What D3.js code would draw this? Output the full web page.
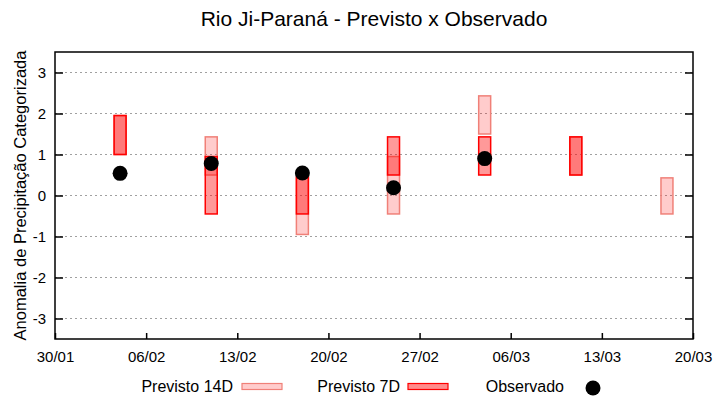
<!DOCTYPE html>
<html>
<head>
<meta charset="utf-8">
<script src="https://cdn.jsdelivr.net/npm/d3@7"></script>
<style>
  body { margin: 0; background: #fff; }
  text { font-family: "Liberation Sans", Arial, sans-serif; fill: #000; }
</style>
</head>
<body>
<script>
// forecast dates (dd/mm)
var dates = ["04/02", "11/02", "18/02", "25/02", "04/03", "11/03", "18/03"];
// 14 day forecast ranges (low, high)
var prev14Low  = [1.0, 0.5, -0.95, -0.45, 1.5, 0.5, -0.45];
var prev14High = [1.95, 1.43, 0.45, 0.95, 2.43, 1.43, 0.43];
// 7 day forecast ranges (null = none)
var prev7Low  = [1.0, -0.45, -0.45, 0.5, 0.5, 0.5, null];
var prev7High = [1.95, 0.95, 0.45, 1.43, 1.43, 1.43, null];
// observed anomaly
var observado = [0.54, 0.78, 0.55, 0.19, 0.9, null, null];

var xTicks = ["30/01", "06/02", "13/02", "20/02", "27/02", "06/03", "13/03", "20/03"];
var yTicks = [-3, -2, -1, 0, 1, 2, 3];

var width = 720, height = 400;
var margin = {top: 52, right: 27, bottom: 61, left: 55};

function parseDate(s) {
    var p = s.split("/");
    var m = +p[1];
    return new Date(Date.UTC(2023, m - 1, +p[0]));
}

var svg = d3.select("body").append("svg")
    .attr("width", width)
    .attr("height", height);

var x = d3.scaleUtc()
    .domain([parseDate("30/01"), parseDate("20/03")])
    .range([margin.left, width - margin.right]);

var y = d3.scaleLinear()
    .domain([-3.5, 3.5])
    .range([height - margin.bottom, margin.top]);

var day = 24 * 3600 * 1000;
var halfW = 0.46 * day;

//grid lines
svg.selectAll(".grid")
    .data(yTicks)
    .enter()
    .append("line")
    .attr("x1", margin.left)
    .attr("x2", width - margin.right)
    .attr("y1", function(d){ return y(d); })
    .attr("y2", function(d){ return y(d); })
    .attr("stroke", "#a0a0a0")
    .attr("stroke-width", 1)
    .attr("stroke-dasharray", "2,3");

var rows = dates.map(function(d, i){
    return {date: parseDate(d), l14: prev14Low[i], h14: prev14High[i],
            l7: prev7Low[i], h7: prev7High[i], obs: observado[i]};
});

//14D bars
svg.selectAll(".b14")
    .data(rows)
    .enter()
    .append("rect")
    .attr("x", function(d){ return x(new Date(+d.date - halfW)); })
    .attr("width", function(d){ return x(new Date(+d.date + halfW)) - x(new Date(+d.date - halfW)); })
    .attr("y", function(d){ return y(d.h14); })
    .attr("height", function(d){ return y(d.l14) - y(d.h14); })
    .attr("fill", "rgba(255,0,0,0.2)")
    .attr("stroke", "#f08078")
    .attr("stroke-width", 1.5);

//7D bars
svg.selectAll(".b7")
    .data(rows.filter(function(d){ return d.l7 != null; }))
    .enter()
    .append("rect")
    .attr("x", function(d){ return x(new Date(+d.date - halfW)); })
    .attr("width", function(d){ return x(new Date(+d.date + halfW)) - x(new Date(+d.date - halfW)); })
    .attr("y", function(d){ return y(d.h7); })
    .attr("height", function(d){ return y(d.l7) - y(d.h7); })
    .attr("fill", "rgba(255,0,0,0.4)")
    .attr("stroke", "#ff0000")
    .attr("stroke-width", 1.5);

//observed points
svg.selectAll(".obs")
    .data(rows.filter(function(d){ return d.obs != null; }))
    .enter()
    .append("circle")
    .attr("cx", function(d){ return x(d.date); })
    .attr("cy", function(d){ return y(d.obs); })
    .attr("r", 7.5)
    .attr("fill", "#000");

//axes (gnuplot style, ticks inward)
var xAxis = d3.axisBottom(x)
    .tickValues(xTicks.map(parseDate))
    .tickFormat(function(d, i){ return xTicks[i]; })
    .tickSize(-6)
    .tickPadding(12);
var gx = svg.append("g")
    .attr("transform", "translate(0," + (height - margin.bottom) + ")")
    .call(xAxis);

var yAxis = d3.axisLeft(y)
    .tickValues(yTicks)
    .tickFormat(function(d){ return String(d); })
    .tickSize(-8)
    .tickPadding(9);
var gy = svg.append("g")
    .attr("transform", "translate(" + margin.left + ",0)")
    .call(yAxis);

var gyr = svg.append("g")
    .attr("transform", "translate(" + (width - margin.right) + ",0)")
    .call(d3.axisRight(y).tickValues(yTicks).tickSize(-8).tickFormat(""));

[gx, gy, gyr].forEach(function(g){
    g.select(".domain").remove();
    g.selectAll(".tick line").attr("stroke", "#000").attr("stroke-width", 1.5);
    g.selectAll("text").attr("font-size", 15).attr("fill", "#000")
        .attr("font-family", "Liberation Sans, Arial, sans-serif");
});
gx.selectAll(".tick text").attr("font-family", "Liberation Sans Narrow, Liberation Sans, sans-serif").attr("font-size", 15);

//border
svg.append("rect")
    .attr("x", margin.left)
    .attr("y", margin.top)
    .attr("width", width - margin.left - margin.right)
    .attr("height", height - margin.top - margin.bottom)
    .attr("fill", "none")
    .attr("stroke", "#000")
    .attr("stroke-width", 1.5);

//title
svg.append("text")
    .attr("x", (margin.left + width - margin.right) / 2)
    .attr("y", 26)
    .attr("text-anchor", "middle")
    .attr("font-size", 21)
    .text("Rio Ji-Paraná - Previsto x Observado");

//y label
svg.append("text")
    .attr("transform", "translate(26," + (margin.top + (height - margin.top - margin.bottom) / 2) + ") rotate(-90)")
    .attr("text-anchor", "middle")
    .attr("font-size", 16.5)
    .text("Anomalia de Precipitação Categorizada");

//legend
var ly = 387;
svg.append("text").attr("x", 233).attr("y", ly + 5).attr("text-anchor", "end")
    .attr("font-size", 16).text("Previsto 14D");
svg.append("rect").attr("x", 242).attr("y", ly - 3.5).attr("width", 40).attr("height", 6)
    .attr("fill", "rgba(255,0,0,0.2)").attr("stroke", "#f08078").attr("stroke-width", 1.2);
svg.append("text").attr("x", 400).attr("y", ly + 5).attr("text-anchor", "end")
    .attr("font-size", 16).text("Previsto 7D");
svg.append("rect").attr("x", 408).attr("y", ly - 3.5).attr("width", 40).attr("height", 6)
    .attr("fill", "rgba(255,0,0,0.45)").attr("stroke", "#ff0000").attr("stroke-width", 1.2);
svg.append("text").attr("x", 564).attr("y", ly + 5).attr("text-anchor", "end")
    .attr("font-size", 16).text("Observado");
svg.append("circle").attr("cx", 593).attr("cy", ly + 1).attr("r", 7.5).attr("fill", "#000");
</script>
</body>
</html>
